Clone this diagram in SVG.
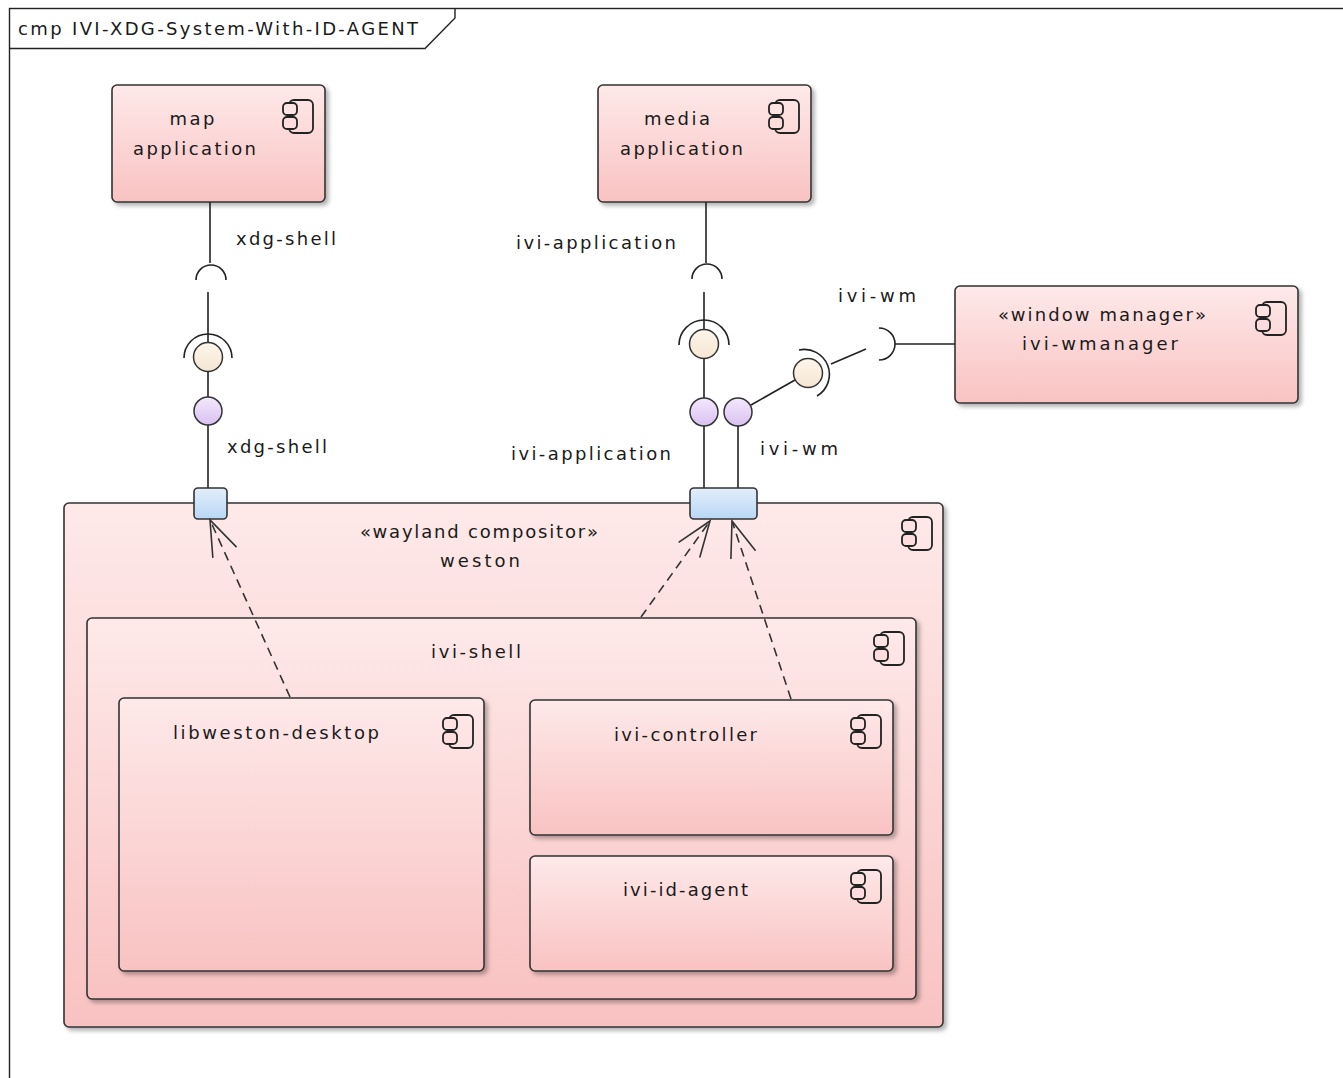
<svg xmlns="http://www.w3.org/2000/svg" width="1343" height="1078" viewBox="0 0 1343 1078">
<style>
.box{fill:url(#gPink);stroke:#333;stroke-width:1.6;filter:url(#sh)}
.t{font-family:"DejaVu Sans","Liberation Sans",sans-serif;font-size:18px;fill:#1a1a1a;text-anchor:middle}
.ln{fill:none;stroke:#222;stroke-width:1.6}
.ball{fill:url(#gCream);stroke:#333;stroke-width:1.5}
.pball{fill:url(#gPurple);stroke:#333;stroke-width:1.5}
.port{fill:url(#gBlue);stroke:#333;stroke-width:1.6}
.dep{fill:none;stroke:#333;stroke-width:1.6;stroke-dasharray:9 6;marker-end:url(#open)}
</style>
<defs>
<linearGradient id="gPink" x1="0" y1="0" x2="0" y2="1"><stop offset="0" stop-color="#fee9e9"/><stop offset="1" stop-color="#f9c2c2"/></linearGradient>
<linearGradient id="gCream" x1="0" y1="0" x2="0" y2="1"><stop offset="0" stop-color="#fdf6ec"/><stop offset="1" stop-color="#f6e6d2"/></linearGradient>
<linearGradient id="gPurple" x1="0" y1="0" x2="0" y2="1"><stop offset="0" stop-color="#f4e8fd"/><stop offset="1" stop-color="#d9c1f1"/></linearGradient>
<linearGradient id="gBlue" x1="0" y1="0" x2="0" y2="1"><stop offset="0" stop-color="#e2eefb"/><stop offset="1" stop-color="#b9d7f4"/></linearGradient>
<filter id="sh" x="-5%" y="-5%" width="115%" height="115%"><feDropShadow dx="3" dy="3" stdDeviation="2" flood-color="#000" flood-opacity="0.3"/></filter>
<marker id="open" markerUnits="userSpaceOnUse" markerWidth="40" markerHeight="30" refX="0" refY="0" orient="auto" overflow="visible"><path d="M-35.7,-13 L0,0 L-35.7,13" fill="none" stroke="#333" stroke-width="1.6" stroke-dasharray="none"/></marker>
<g id="cicon"><rect x="6" y="0" width="24" height="33" rx="5" fill="none" stroke="#222" stroke-width="1.8"/><rect x="0" y="3" width="14" height="12" rx="4" fill="#fde2e2" stroke="#222" stroke-width="1.8"/><rect x="0" y="17" width="14" height="12" rx="4" fill="#fcdcdc" stroke="#222" stroke-width="1.8"/></g>
</defs>
<rect width="1343" height="1078" fill="#fff"/>
<g id="frame">
<rect x="9.5" y="8.5" width="1400" height="1200" fill="none" stroke="#222" stroke-width="1.4"/>
<path d="M9.5,48.5 L425,48.5 L455,18 L455,8.5" fill="none" stroke="#222" stroke-width="1.4"/>
<text class="t" x="18" y="35" style="text-anchor:start" textLength="400" lengthAdjust="spacing">cmp IVI-XDG-System-With-ID-AGENT</text>
</g>
<g id="map-application">
<rect class="box" x="112" y="85" width="213" height="117" rx="5"/>
<use href="#cicon" x="283" y="100"/>
<text class="t" x="192" y="125" textLength="45" lengthAdjust="spacing">map</text>
<text class="t" x="194.5" y="155" textLength="123" lengthAdjust="spacing">application</text>
</g>
<g id="media-application">
<rect class="box" x="598" y="85" width="213" height="117" rx="5"/>
<use href="#cicon" x="769" y="100"/>
<text class="t" x="677" y="125" textLength="66" lengthAdjust="spacing">media</text>
<text class="t" x="681.5" y="155" textLength="123" lengthAdjust="spacing">application</text>
</g>
<g id="ivi-wmanager">
<rect class="box" x="955" y="286" width="343" height="117" rx="5"/>
<use href="#cicon" x="1256" y="302"/>
<text class="t" x="1102" y="321" textLength="208" lengthAdjust="spacing">«window manager»</text>
<text class="t" x="1100" y="350" textLength="156" lengthAdjust="spacing">ivi-wmanager</text>
</g>
<g id="weston">
<rect class="box" x="64" y="503" width="879" height="524" rx="5"/>
<use href="#cicon" x="902" y="517"/>
<text class="t" x="479" y="538" textLength="238" lengthAdjust="spacing">«wayland compositor»</text>
<text class="t" x="480" y="567" textLength="80" lengthAdjust="spacing">weston</text>
</g>
<g id="ivi-shell">
<rect class="box" x="87" y="618" width="829" height="381" rx="5"/>
<use href="#cicon" x="874" y="632"/>
<text class="t" x="476" y="658" textLength="90" lengthAdjust="spacing">ivi-shell</text>
</g>
<g id="libweston-desktop">
<rect class="box" x="119" y="698" width="365" height="273" rx="5"/>
<use href="#cicon" x="443" y="715"/>
<text class="t" x="276" y="739" textLength="206" lengthAdjust="spacing">libweston-desktop</text>
</g>
<g id="ivi-controller">
<rect class="box" x="530" y="700" width="363" height="135" rx="5"/>
<use href="#cicon" x="851" y="715"/>
<text class="t" x="685.5" y="741" textLength="143" lengthAdjust="spacing">ivi-controller</text>
</g>
<g id="ivi-id-agent">
<rect class="box" x="530" y="856" width="363" height="115" rx="5"/>
<use href="#cicon" x="851" y="870"/>
<text class="t" x="685.5" y="896" textLength="125" lengthAdjust="spacing">ivi-id-agent</text>
</g>
<g id="connectors">
<path class="ln" d="M210,202 L210,263"/>
<path class="ln" d="M196,280 A15,15 0 0 1 226,280"/>
<path class="ln" d="M208,292 L208,343"/>
<path class="ln" d="M184,358 A24,24 0 0 1 232,358"/>
<circle class="ball" cx="208" cy="357" r="14.5"/>
<path class="ln" d="M208,371.5 L208,397"/>
<circle class="pball" cx="208" cy="411" r="14"/>
<path class="ln" d="M208,425 L208,488"/>
<rect class="port" x="194" y="488" width="33" height="31" rx="4"/>
<text class="t" x="286" y="245" textLength="100" lengthAdjust="spacing">xdg-shell</text>
<text class="t" x="277" y="453" textLength="100" lengthAdjust="spacing">xdg-shell</text>
<path class="ln" d="M706,202 L706,263"/>
<path class="ln" d="M692,279 A15,15 0 0 1 722,279"/>
<path class="ln" d="M704,292 L704,329"/>
<path class="ln" d="M679,345 A25,25 0 0 1 729,345"/>
<circle class="ball" cx="704" cy="344" r="14.5"/>
<path class="ln" d="M704,358.5 L704,398"/>
<circle class="pball" cx="704" cy="412" r="14"/>
<path class="ln" d="M704,426 L704,488"/>
<text class="t" x="596" y="249" textLength="160" lengthAdjust="spacing">ivi-application</text>
<text class="t" x="591" y="460" textLength="160" lengthAdjust="spacing">ivi-application</text>
<circle class="pball" cx="738" cy="412" r="14"/>
<path class="ln" d="M738,426 L738,488"/>
<path class="ln" d="M751,405 L795,380"/>
<path class="ln" d="M799,350 A25,25 0 0 1 817,396"/>
<circle class="ball" cx="808" cy="373" r="14.5"/>
<path class="ln" d="M831,364 L866,349"/>
<path class="ln" d="M879,328 A16,16 0 0 1 879,360"/>
<path class="ln" d="M895,344 L955,344"/>
<text class="t" x="877" y="302" textLength="78" lengthAdjust="spacing">ivi-wm</text>
<text class="t" x="799" y="455" textLength="78" lengthAdjust="spacing">ivi-wm</text>
<rect class="port" x="690" y="488" width="67" height="31" rx="4"/>
<path class="dep" d="M290,697 L210,520"/>
<path class="dep" d="M641,617 L710,521"/>
<path class="dep" d="M791,699 L732,521"/>
</g>
</svg>
